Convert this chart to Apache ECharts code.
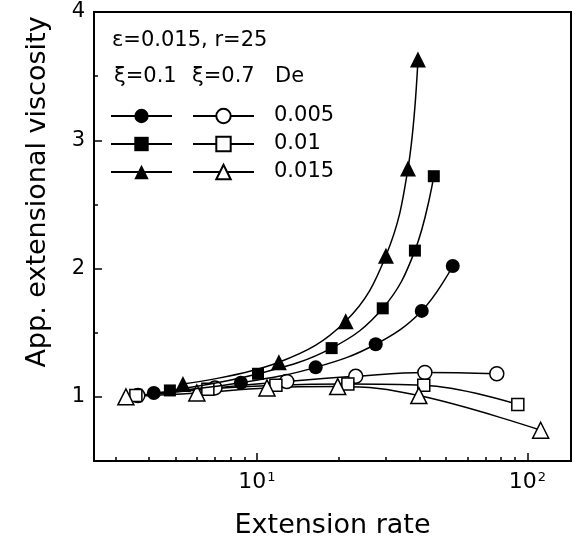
<!DOCTYPE html>
<html>
<head>
<meta charset="utf-8">
<script src="https://cdn.jsdelivr.net/npm/echarts@6/dist/echarts.min.js"></script>
<style>html,body{margin:0;padding:0;background:#fff}#c{width:576px;height:541px}</style>
</head>
<body>
<div id="c"></div>
<script>
// xi = 0.1 (filled symbols)
const rateA1 = [4.16, 8.73, 16.5, 27.5, 40.7, 53.0];
const visA1  = [1.03, 1.11, 1.23, 1.41, 1.67, 2.02];
const rateA2 = [4.77, 10.1, 18.9, 29.2, 38.4, 45.1];
const visA2  = [1.05, 1.18, 1.38, 1.69, 2.14, 2.72];
const rateA3 = [5.33, 12.06, 21.3, 30.0, 36.2, 39.4];
const visA3  = [1.10, 1.27, 1.59, 2.10, 2.78, 3.63];
// xi = 0.7 (open symbols)
const rateB1 = [3.63, 7.0, 12.9, 23.2, 41.8, 77.1];
const visB1  = [1.01, 1.07, 1.12, 1.16, 1.19, 1.18];
const rateB2 = [3.57, 6.59, 11.76, 21.7, 41.4, 92.2];
const visB2  = [1.01, 1.06, 1.09, 1.10, 1.09, 0.94];
const rateB3 = [3.28, 6.0, 10.9, 19.9, 39.7, 112];
const visB3  = [1.00, 1.03, 1.07, 1.08, 1.01, 0.74];

const deValues = ['0.005', '0.01', '0.015'];
const xMinorTicks = [3, 4, 5, 6, 7, 8, 9, 20, 30, 40, 50, 60, 70, 80, 90];
const xMajorTicks = [10, 100];
const yMajorTicks = [1, 2, 3, 4];

const FONT = 'DejaVu Sans';
const pair = (xs, ys) => xs.map((x, i) => [x, ys[i]]);

function mkSeries(name, xs, ys, symbol, size, filled) {
  return {
    type: 'line', name, data: pair(xs, ys), smooth: 0.4,
    symbol, symbolSize: size, xAxisIndex: 0, yAxisIndex: 0,
    lineStyle: { color: '#000', width: 1.5 },
    itemStyle: filled ? { color: '#000', borderColor: '#000', borderWidth: 0 }
                      : { color: '#fff', borderColor: '#000', borderWidth: 1.5 },
    emphasis: { disabled: true }, z: filled ? 3 : 2
  };
}

const series = [
  mkSeries('ξ=0.1, De=' + deValues[0], rateA1, visA1, 'circle', 14, true),
  mkSeries('ξ=0.1, De=' + deValues[1], rateA2, visA2, 'rect', 12, true),
  mkSeries('ξ=0.1, De=' + deValues[2], rateA3, visA3, 'triangle', 16, true),
  mkSeries('ξ=0.7, De=' + deValues[0], rateB1, visB1, 'circle', 14, false),
  mkSeries('ξ=0.7, De=' + deValues[1], rateB2, visB2, 'rect', 12, false),
  mkSeries('ξ=0.7, De=' + deValues[2], rateB3, visB3, 'triangle', 16, false)
];

const chart = echarts.init(document.getElementById('c'), null, { renderer: 'canvas' });
const xCommon = { type: 'log', logBase: 10, min: 2.5, max: 145, position: 'bottom', splitLine: { show: false } };
const yCommon = { type: 'value', min: 0.5, max: 4, interval: 0.5, position: 'left', splitLine: { show: false } };

const legendCommon = {
  orient: 'vertical', top: 105.5, padding: 0,
  itemWidth: 61, itemHeight: 18, itemGap: 7, selectedMode: false
};

chart.setOption({
  animation: false,
  backgroundColor: '#fff',
  grid: { left: 94, right: 5, top: 12, bottom: 80, outerBoundsMode: 'none', containLabel: false,
    show: true, borderColor: '#000', borderWidth: 2, backgroundColor: 'transparent' },
  xAxis: [
    Object.assign({}, xCommon, {
      name: 'Extension rate', nameLocation: 'middle', nameGap: 51,
      nameTextStyle: { fontFamily: FONT, fontSize: 27, color: '#000' },
      axisLine: { lineStyle: { color: '#000', width: 2 } },
      axisTick: { inside: true, length: 4, customValues: xMinorTicks, lineStyle: { color: '#000', width: 1.5 } },
      axisLabel: { show: false }
    }),
    Object.assign({}, xCommon, {
      axisLine: { show: false },
      axisTick: { inside: true, length: 8, customValues: xMajorTicks, lineStyle: { color: '#000', width: 1.5 } },
      axisLabel: {
        customValues: xMajorTicks, margin: 10, color: '#000',
        formatter: v => '{b|10}{s|' + Math.round(Math.log10(v)) + '}',
        rich: {
          b: { fontFamily: FONT, fontSize: 22, color: '#000' },
          s: { fontFamily: FONT, fontSize: 13, color: '#000', verticalAlign: 'top', padding: [0, 0, 10, 1] }
        }
      }
    })
  ],
  yAxis: [
    Object.assign({}, yCommon, {
      axisLine: { lineStyle: { color: '#000', width: 2 } },
      axisTick: { inside: true, length: 4, lineStyle: { color: '#000', width: 1.5 } },
      axisLabel: { margin: 9, fontFamily: FONT, fontSize: 21, color: '#000',
        formatter: v => (Number.isInteger(v) ? String(v) : '') }
    }),
    Object.assign({}, yCommon, {
      axisLine: { show: false },
      axisTick: { inside: true, length: 8, customValues: yMajorTicks, lineStyle: { color: '#000', width: 1.5 } },
      axisLabel: { show: false }
    })
  ],
  legend: [
    Object.assign({}, legendCommon, {
      data: series.slice(0, 3).map(s => s.name), left: 110,
      formatter: () => ' ', textStyle: { fontFamily: FONT, fontSize: 21, lineHeight: 21 }
    }),
    Object.assign({}, legendCommon, {
      data: series.slice(3).map(s => s.name), left: 192,
      formatter: n => n.split('De=')[1],
      textStyle: { fontFamily: FONT, fontSize: 21, color: '#000', lineHeight: 21, padding: [0, 0, 0, 15] }
    })
  ],
  graphic: [
    { type: 'text', x: 38, y: 192, rotation: Math.PI / 2,
      style: { text: 'App. extensional viscosity', fontFamily: FONT, fontSize: 27, fill: '#000', align: 'center', verticalAlign: 'middle' } },
    { type: 'text', x: 112, y: 41, style: { text: 'ε=0.015, r=25', fontFamily: FONT, fontSize: 21, fill: '#000', verticalAlign: 'middle' } },
    { type: 'text', x: 114, y: 77, style: { text: 'ξ=0.1', fontFamily: FONT, fontSize: 21, fill: '#000', verticalAlign: 'middle' } },
    { type: 'text', x: 192, y: 77, style: { text: 'ξ=0.7', fontFamily: FONT, fontSize: 21, fill: '#000', verticalAlign: 'middle' } },
    { type: 'text', x: 275, y: 77, style: { text: 'De', fontFamily: FONT, fontSize: 21, fill: '#000', verticalAlign: 'middle' } }
  ],
  series
});
</script>
</body>
</html>
